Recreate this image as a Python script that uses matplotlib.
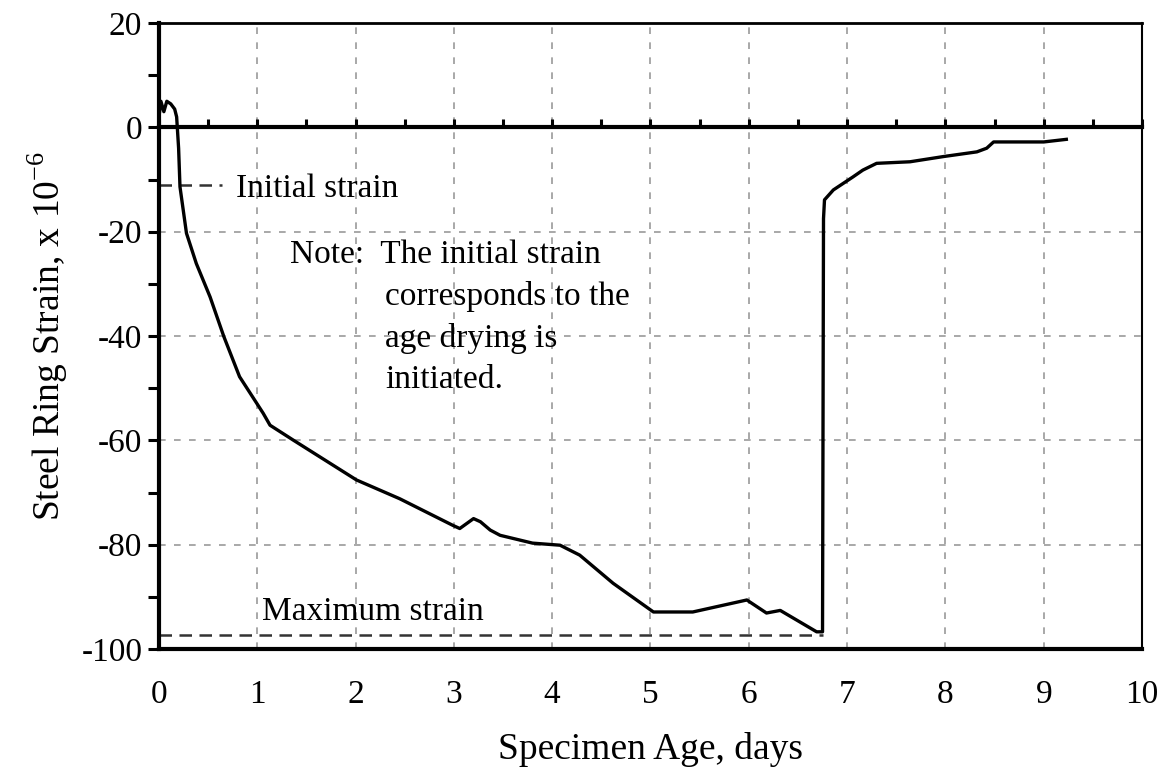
import numpy as np
import matplotlib
matplotlib.use("Agg")
import matplotlib.pyplot as plt
from matplotlib.ticker import MultipleLocator

# ---- data ----
age_days = [0.0, 0.02, 0.05, 0.08, 0.12, 0.16, 0.18, 0.20, 0.214, 0.28, 0.38, 0.52,
            0.66, 0.82, 1.06, 1.13, 1.37, 2.01, 2.45, 2.99, 3.06, 3.20, 3.27, 3.37,
            3.47, 3.80, 4.08, 4.28, 4.62, 5.03, 5.43, 5.98, 6.18, 6.32, 6.69, 6.75,
            6.76, 6.77, 6.86, 7.06, 7.16, 7.30, 7.64, 7.98, 8.32, 8.42, 8.49, 9.00, 9.23]
strain = [2.0, 5.0, 3.0, 5.0, 4.5, 3.5, 2.0, -4.0, -11.4, -20.3, -26.1, -32.5,
          -40.1, -47.8, -54.8, -57.1, -60.0, -67.6, -71.2, -76.3, -76.9, -75.0, -75.6, -77.2,
          -78.2, -79.7, -80.1, -82.0, -87.4, -92.9, -92.9, -90.6, -93.1, -92.6, -96.7, -96.7,
          -17.5, -13.9, -12.0, -9.5, -8.2, -6.9, -6.6, -5.6, -4.7, -4.0, -2.8, -2.8, -2.3]

initial_strain = -11.1
initial_strain_x = [0.0, 0.64]
max_strain = -97.3
max_strain_x = [0.0, 6.75]

x_ticks = [0, 1, 2, 3, 4, 5, 6, 7, 8, 9, 10]
y_ticks = [20, 0, -20, -40, -60, -80, -100]

note_lines = ["Note:  The initial strain", "corresponds to the", "age drying is", "initiated."]

plt.rcParams['font.family'] = ['Liberation Serif', 'DejaVu Serif']
plt.rcParams['axes.unicode_minus'] = False

fig = plt.figure(figsize=(11.67, 7.72), dpi=100)
ax = fig.add_axes([0.1362, 0.1593, 0.8424, 0.8109])

ax.set_xlim(0, 10)
ax.set_ylim(-100, 20)

# grid
grid_kw = dict(color='#9a9a9a', linestyle=(0, (4, 5)), linewidth=1.2, zorder=0)
for xv in x_ticks[1:-1]:
    ax.axvline(xv, **grid_kw)
for yv in y_ticks[2:-1]:
    ax.axhline(yv, **grid_kw)

# dashed reference lines
ax.plot(initial_strain_x, [initial_strain] * 2, color='#333333', lw=1.8,
        linestyle=(0, (5, 3)), zorder=2)
ax.plot(max_strain_x, [max_strain] * 2, color='#333333', lw=1.8,
        linestyle=(0, (5, 3)), zorder=2)

# main curve
ax.plot(age_days, strain, color='black', lw=2.4, zorder=3, solid_joinstyle='round')

# zero line with ticks
sec = ax.secondary_xaxis(0, transform=ax.transData)
sec.set_xticks(np.arange(0, 10.01, 0.5))
sec.tick_params(direction='in', length=6, width=2.2, labeltop=False, labelbottom=False)
sec.spines['top'].set_linewidth(3)
sec.spines['bottom'].set_linewidth(3)

# spines
ax.spines['left'].set_linewidth(3)
ax.spines['bottom'].set_linewidth(3)
ax.spines['top'].set_linewidth(2)
ax.spines['right'].set_linewidth(1.5)

# ticks
ax.set_xticks(x_ticks)
ax.tick_params(axis='x', length=0, pad=22, labelsize=24)
ax.set_yticks(y_ticks)
ax.yaxis.set_minor_locator(MultipleLocator(10))
ax.tick_params(axis='y', which='both', direction='out', length=8, width=2.2,
               labelsize=24, pad=4)

ax.set_xlabel("Specimen Age, days", fontsize=27, labelpad=16)
ax.set_ylabel(r"Steel Ring Strain, x 10$^{\mathregular{-6}}$", fontsize=27, labelpad=8)

# annotations
ax.text(0.78, initial_strain - 0.6, "Initial strain", fontsize=24, va='center', ha='left')
ax.text(1.05, max_strain + 1.6, "Maximum strain", fontsize=24, va='bottom', ha='left')
ax.text(1.33, -24.5, note_lines[0], fontsize=24, va='center', ha='left')
for i, line in enumerate(note_lines[1:]):
    ax.text(2.3, -32.5 - 7.9 * i, line, fontsize=24, va='center', ha='left')

fig.savefig("out.png", dpi=100)
